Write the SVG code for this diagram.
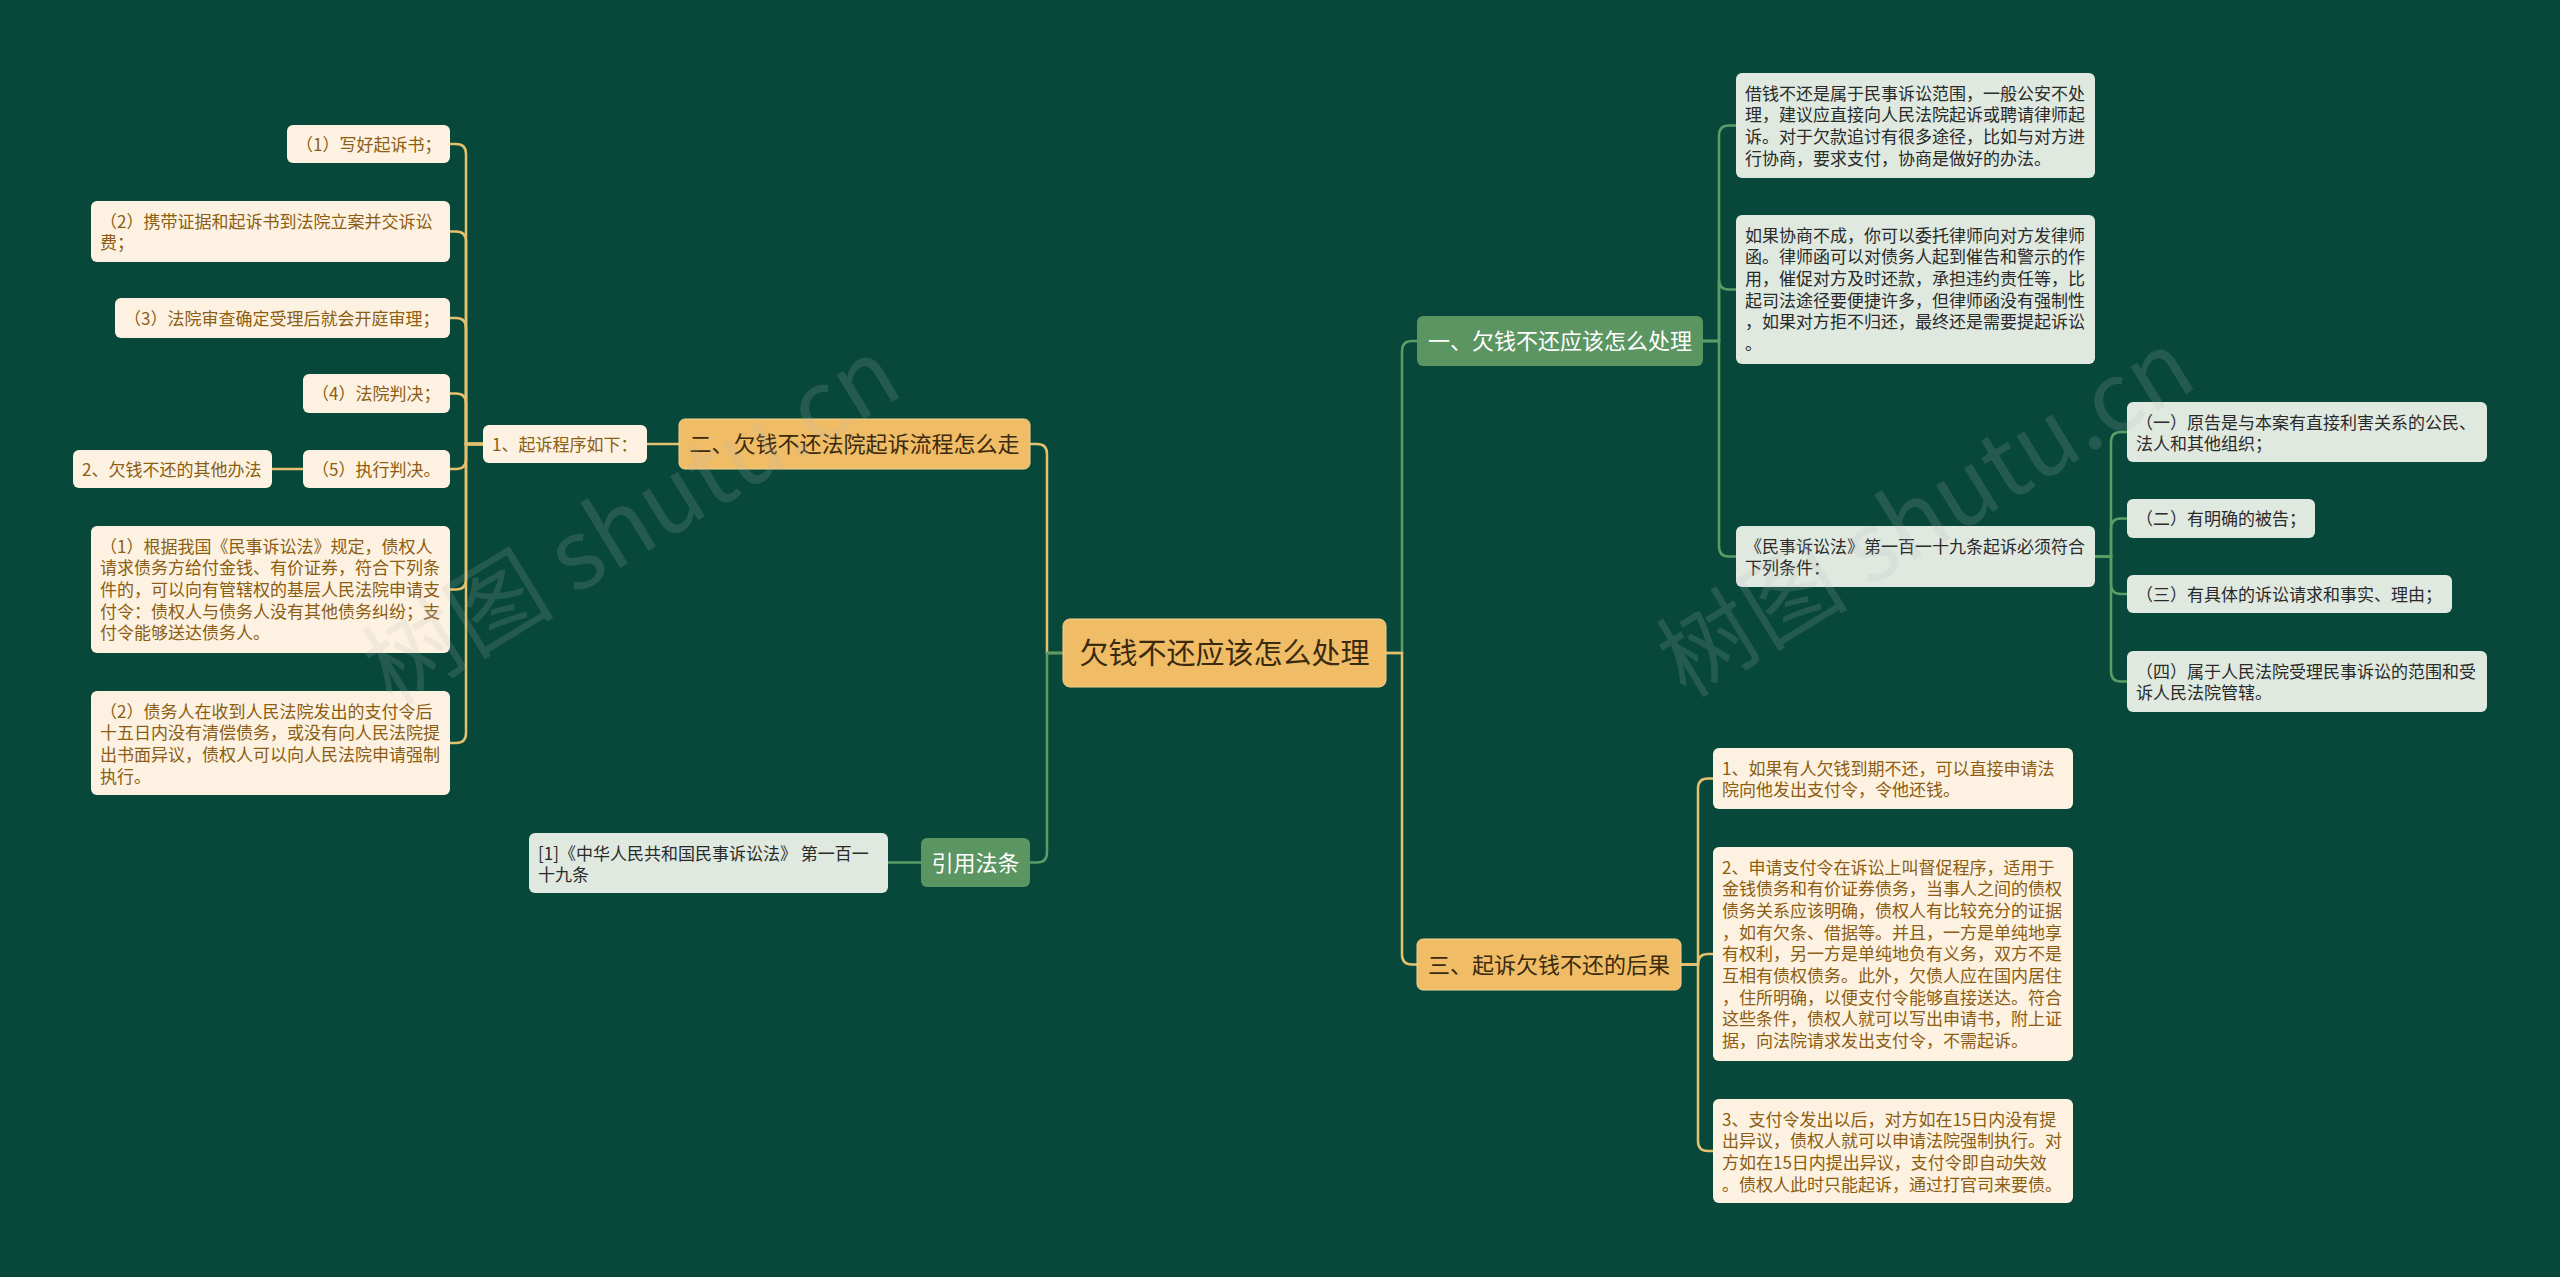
<svg xmlns="http://www.w3.org/2000/svg" width="2560" height="1277" viewBox="0 0 2560 1277">
<style>
.t{font-family:"Noto Sans CJK SC","Noto Sans",sans-serif}
.nO{fill:#f0bc65;stroke:#f6d391;stroke-width:1}
.nG{fill:#5b9562}
.bL{fill:#dfe9e0}
.bC{fill:#fdf2e1}
.tc{font-size:17px;fill:#8c5d12}
.tl{font-size:17px;fill:#2a2a2a}
.tm{font-size:22px;text-anchor:middle}
.dk{fill:#3a2a10}
.wh{fill:#ffffff}
.lY{fill:none;stroke:#e5c16f;stroke-width:2.5}
.lG{fill:none;stroke:#5c9c66;stroke-width:2.5}
.wm{font-family:"Noto Sans CJK SC","Liberation Sans",sans-serif;font-size:96px;fill:#b8b8b8;opacity:0.17}
</style>
<rect width="2560" height="1277" fill="#07483a"/>

<g id="connectors">
<path class="lY" d="M1063 653 H1047 V454 Q1047 444 1037 444 H1030"/>
<path class="lG" d="M1063 653 H1047 V852.5 Q1047 862.5 1037 862.5 H1030"/>
<path class="lG" d="M1386 653 H1402 V351 Q1402 341 1412 341 H1417"/>
<path class="lY" d="M1386 653 H1402 V954.5 Q1402 964.5 1412 964.5 H1417"/>
<path class="lY" d="M679 444 H647"/>
<path class="lG" d="M921 862.5 H888"/>
<path class="lY" d="M303 469 H272"/>
<path class="lY" d="M483 444 H466 V154 Q466 144 456 144 H450"/>
<path class="lY" d="M483 444 H466 V241.5 Q466 231.5 456 231.5 H450"/>
<path class="lY" d="M483 444 H466 V328 Q466 318 456 318 H450"/>
<path class="lY" d="M483 444 H466 V403.5 Q466 393.5 456 393.5 H450"/>
<path class="lY" d="M483 444 H466 V459 Q466 469 456 469 H450"/>
<path class="lY" d="M483 444 H466 V579.5 Q466 589.5 456 589.5 H450"/>
<path class="lY" d="M483 444 H466 V733 Q466 743 456 743 H450"/>
<path class="lG" d="M1703 341 H1719 V135.5 Q1719 125.5 1729 125.5 H1736"/>
<path class="lG" d="M1703 341 H1719 V279.5 Q1719 289.5 1729 289.5 H1736"/>
<path class="lG" d="M1703 341 H1719 V546.5 Q1719 556.5 1729 556.5 H1736"/>
<path class="lG" d="M2095 556.5 H2111 V442 Q2111 432 2121 432 H2127"/>
<path class="lG" d="M2095 556.5 H2111 V528.5 Q2111 518.5 2121 518.5 H2127"/>
<path class="lG" d="M2095 556.5 H2111 V584 Q2111 594 2121 594 H2127"/>
<path class="lG" d="M2095 556.5 H2111 V671.5 Q2111 681.5 2121 681.5 H2127"/>
<path class="lY" d="M1681 964.5 H1698 V788.5 Q1698 778.5 1708 778.5 H1713"/>
<path class="lY" d="M1681 964.5 H1698 V964 Q1698 954 1708 954 H1713"/>
<path class="lY" d="M1681 964.5 H1698 V1141 Q1698 1151 1708 1151 H1713"/>
</g>

<g id="center"><rect class="nO" x="1063" y="619" width="323" height="68" rx="7"/><text class="t dk" x="1224.5" y="664" font-size="29" text-anchor="middle">欠钱不还应该怎么处理</text></g>

<g id="b1"><rect class="nG" x="1417" y="316" width="286" height="50" rx="6"/><text class="t tm wh" x="1560" y="349">一、欠钱不还应该怎么处理</text></g>
<g id="b3"><rect class="nO" x="1417" y="939" width="264" height="51" rx="6"/><text class="t tm dk" x="1549" y="973">三、起诉欠钱不还的后果</text></g>
<g id="b2"><rect class="nO" x="679" y="419" width="351" height="50" rx="6"/><text class="t tm dk" x="854.5" y="452">二、欠钱不还法院起诉流程怎么走</text></g>
<g id="b4"><rect class="nG" x="921" y="838" width="109" height="49" rx="6"/><text class="t tm wh" x="975.5" y="871">引用法条</text></g>

<g id="n21"><rect class="bC" x="483" y="425" width="164" height="38" rx="6"/><text class="t tc" x="492" y="451">1、起诉程序如下：</text></g>
<g id="n211"><rect class="bC" x="287" y="125" width="163" height="38" rx="6"/><text class="t tc" x="296" y="151">（1）写好起诉书；</text></g>
<g id="n212"><rect class="bC" x="91" y="201" width="359" height="61" rx="6"/><text class="t tc" x="100" y="227.5">（2）携带证据和起诉书到法院立案并交诉讼<tspan x="100" dy="21.7">费；</tspan></text></g>
<g id="n213"><rect class="bC" x="115" y="298" width="335" height="40" rx="6"/><text class="t tc" x="124" y="324.5">（3）法院审查确定受理后就会开庭审理；</text></g>
<g id="n214"><rect class="bC" x="303" y="374" width="147" height="39" rx="6"/><text class="t tc" x="312" y="400">（4）法院判决；</text></g>
<g id="n215"><rect class="bC" x="303" y="450" width="147" height="38" rx="6"/><text class="t tc" x="312" y="476">（5）执行判决。</text></g>
<g id="n2151"><rect class="bC" x="73" y="450" width="199" height="38" rx="6"/><text class="t tc" x="82" y="476">2、欠钱不还的其他办法</text></g>
<g id="n216"><rect class="bC" x="91" y="526" width="359" height="127" rx="6"/><text class="t tc" x="100" y="552.5">（1）根据我国《民事诉讼法》规定，债权人<tspan x="100" dy="21.7">请求债务方给付金钱、有价证券，符合下列条</tspan><tspan x="100" dy="21.7">件的，可以向有管辖权的基层人民法院申请支</tspan><tspan x="100" dy="21.7">付令：债权人与债务人没有其他债务纠纷；支</tspan><tspan x="100" dy="21.7">付令能够送达债务人。</tspan></text></g>
<g id="n217"><rect class="bC" x="91" y="691" width="359" height="104" rx="6"/><text class="t tc" x="100" y="717.5">（2）债务人在收到人民法院发出的支付令后<tspan x="100" dy="21.7">十五日内没有清偿债务，或没有向人民法院提</tspan><tspan x="100" dy="21.7">出书面异议，债权人可以向人民法院申请强制</tspan><tspan x="100" dy="21.7">执行。</tspan></text></g>

<g id="n41"><rect class="bL" x="529" y="833" width="359" height="60" rx="6"/><text class="t tl" x="538" y="859.5">[1]《中华人民共和国民事诉讼法》 第一百一<tspan x="538" dy="21.7">十九条</tspan></text></g>

<g id="n11"><rect class="bL" x="1736" y="73" width="359" height="105" rx="6"/><text class="t tl" x="1745" y="99.5">借钱不还是属于民事诉讼范围，一般公安不处<tspan x="1745" dy="21.7">理，建议应直接向人民法院起诉或聘请律师起</tspan><tspan x="1745" dy="21.7">诉。对于欠款追讨有很多途径，比如与对方进</tspan><tspan x="1745" dy="21.7">行协商，要求支付，协商是做好的办法。</tspan></text></g>
<g id="n12"><rect class="bL" x="1736" y="215" width="359" height="149" rx="6"/><text class="t tl" x="1745" y="241.5">如果协商不成，你可以委托律师向对方发律师<tspan x="1745" dy="21.7">函。律师函可以对债务人起到催告和警示的作</tspan><tspan x="1745" dy="21.7">用，催促对方及时还款，承担违约责任等，比</tspan><tspan x="1745" dy="21.7">起司法途径要便捷许多，但律师函没有强制性</tspan><tspan x="1745" dy="21.7">，如果对方拒不归还，最终还是需要提起诉讼</tspan><tspan x="1745" dy="21.7">。</tspan></text></g>
<g id="n13"><rect class="bL" x="1736" y="526" width="359" height="61" rx="6"/><text class="t tl" x="1745" y="552.5">《民事诉讼法》第一百一十九条起诉必须符合<tspan x="1745" dy="21.7">下列条件：</tspan></text></g>
<g id="n131"><rect class="bL" x="2127" y="402" width="360" height="60" rx="6"/><text class="t tl" x="2136" y="428.5">（一）原告是与本案有直接利害关系的公民、<tspan x="2136" dy="21.7">法人和其他组织；</tspan></text></g>
<g id="n132"><rect class="bL" x="2127" y="499" width="188" height="39" rx="6"/><text class="t tl" x="2136" y="525">（二）有明确的被告；</text></g>
<g id="n133"><rect class="bL" x="2127" y="575" width="325" height="38" rx="6"/><text class="t tl" x="2136" y="601">（三）有具体的诉讼请求和事实、理由；</text></g>
<g id="n134"><rect class="bL" x="2127" y="651" width="360" height="61" rx="6"/><text class="t tl" x="2136" y="677.5">（四）属于人民法院受理民事诉讼的范围和受<tspan x="2136" dy="21.7">诉人民法院管辖。</tspan></text></g>

<g id="n31"><rect class="bC" x="1713" y="748" width="360" height="61" rx="6"/><text class="t tc" x="1722" y="774.5">1、如果有人欠钱到期不还，可以直接申请法<tspan x="1722" dy="21.7">院向他发出支付令，令他还钱。</tspan></text></g>
<g id="n32"><rect class="bC" x="1713" y="847" width="360" height="214" rx="6"/><text class="t tc" x="1722" y="873.5">2、申请支付令在诉讼上叫督促程序，适用于<tspan x="1722" dy="21.7">金钱债务和有价证券债务，当事人之间的债权</tspan><tspan x="1722" dy="21.7">债务关系应该明确，债权人有比较充分的证据</tspan><tspan x="1722" dy="21.7">，如有欠条、借据等。并且，一方是单纯地享</tspan><tspan x="1722" dy="21.7">有权利，另一方是单纯地负有义务，双方不是</tspan><tspan x="1722" dy="21.7">互相有债权债务。此外，欠债人应在国内居住</tspan><tspan x="1722" dy="21.7">，住所明确，以便支付令能够直接送达。符合</tspan><tspan x="1722" dy="21.7">这些条件，债权人就可以写出申请书，附上证</tspan><tspan x="1722" dy="21.7">据，向法院请求发出支付令，不需起诉。</tspan></text></g>
<g id="n33"><rect class="bC" x="1713" y="1099" width="360" height="104" rx="6"/><text class="t tc" x="1722" y="1125.5">3、支付令发出以后，对方如在15日内没有提<tspan x="1722" dy="21.7">出异议，债权人就可以申请法院强制执行。对</tspan><tspan x="1722" dy="21.7">方如在15日内提出异议，支付令即自动失效</tspan><tspan x="1722" dy="21.7">。债权人此时只能起诉，通过打官司来要债。</tspan></text></g>

<g id="watermark">
<text class="wm" x="632" y="555" text-anchor="middle" transform="rotate(-31.4 632 522)">树图 shutu.cn</text>
<text class="wm" x="1926" y="547" text-anchor="middle" transform="rotate(-31.4 1926 514)">树图 shutu.cn</text>
</g>
</svg>
